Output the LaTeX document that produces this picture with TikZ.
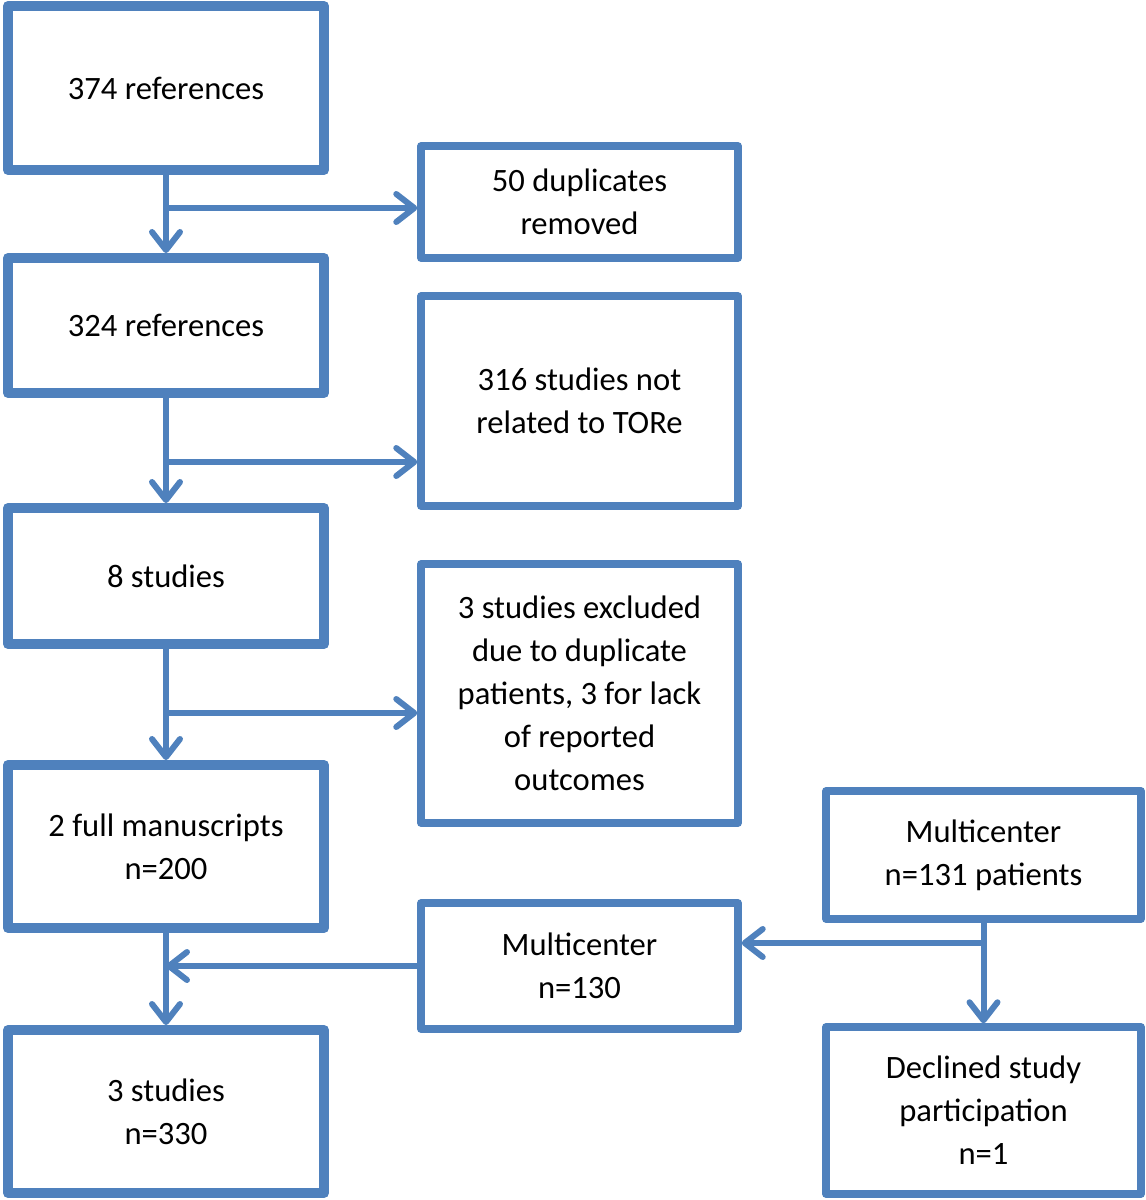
\documentclass[tikz,border=0pt]{standalone}
\usepackage{fontspec}
\setmainfont{Carlito}
\usetikzlibrary{arrows.meta}

\definecolor{fblue}{RGB}{79,129,189}
\tikzset{flowchart/.style={x=0.5pt,y=-0.5pt,font=\fontsize{16.3}{21.5}\selectfont,line join=round},
  mainbox/.style={draw=fblue,line width=5pt,fill=white,align=center,inner sep=0pt},
  sidebox/.style={draw=fblue,line width=3.75pt,fill=white,align=center,inner sep=0pt},
  flowarr/.style={draw=fblue,line width=3pt,line cap=round,-{Straight Barb[length=9pt,width=14pt,round]}}}

\begin{document}
\begin{tikzpicture}[flowchart]
    \useasboundingbox (0,0) rectangle (1146,1200);
    % left column
    \node[mainbox,minimum width=158pt,minimum height=82pt]   (refs374) at (166,88)   {374 references};
    \node[mainbox,minimum width=158pt,minimum height=67.5pt] (refs324) at (166,325.5) {324 references};
    \node[mainbox,minimum width=158pt,minimum height=68pt]   (studies8) at (166,576) {8 studies};
    \node[mainbox,minimum width=158pt,minimum height=81.5pt] (manus) at (166,846.5)  {2 full manuscripts\\n=200};
    \node[mainbox,minimum width=158pt,minimum height=81.5pt] (final) at (166,1111.5) {3 studies\\n=330};
    % right column
    \node[sidebox,minimum width=158.5pt,minimum height=56pt]  (dupl) at (579.5,202)  {50 duplicates\\removed};
    \node[sidebox,minimum width=158.5pt,minimum height=105pt] (unrel) at (579.5,401) {316 studies not\\related to TORe};
    \node[sidebox,minimum width=158.5pt,minimum height=129.5pt] (excl) at (579.5,693.5) {3 studies excluded\\due to duplicate\\patients, 3 for lack\\of reported\\outcomes};
    \node[sidebox,minimum width=158.5pt,minimum height=63pt]  (mc130) at (579.5,966) {Multicenter\\n=130};
    \node[sidebox,minimum width=157.5pt,minimum height=64pt]  (mc131) at (983.5,855) {Multicenter\\n=131 patients};
    \node[sidebox,minimum width=157.5pt,minimum height=83.5pt] (declined) at (983.5,1110.5) {Declined study\\participation\\n=1};

    \coordinate (j1) at (166,208);
    \coordinate (j2) at (166,462);
    \coordinate (j3) at (166,713);
    \coordinate (j5) at (983.5,943);

    \draw[flowarr] (refs374) -- (refs324);
    \draw[flowarr] (refs324) -- (studies8);
    \draw[flowarr] (studies8) -- (manus);
    \draw[flowarr] (manus) -- (final);
    \draw[flowarr] (j1) -- (j1 -| dupl.west);
    \draw[flowarr] (j2) -- (j2 -| unrel.west);
    \draw[flowarr] (j3) -- (j3 -| excl.west);
    \draw[flowarr] (mc130.west) -- (mc130.west -| manus.south);
    \draw[flowarr] (mc131) -- (declined);
    \draw[flowarr] (j5) -- (j5 -| mc130.east);
  \end{tikzpicture}
\end{document}
